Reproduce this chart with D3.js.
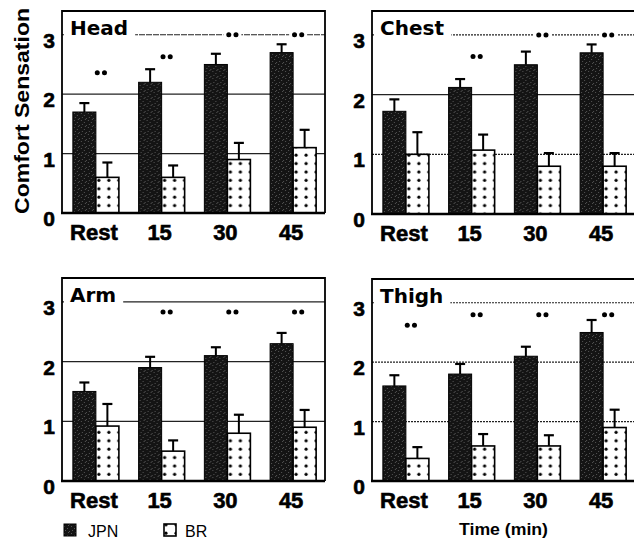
<!DOCTYPE html>
<html lang="en">
  <head>
    <meta charset="utf-8" />
    <style>
      body { margin: 0; background: #fff; }
      svg { display: block; }
    </style>
  </head>
  <body>
    <svg id="chart" width="634" height="543"></svg>
    <script src="https://d3js.org/d3.v7.min.js"></script>
    <script>
      const categories = ["Rest", "15", "30", "45"];
      const yTicks = [0, 1, 2, 3];

      const headJPN = [1.7, 2.2, 2.5, 2.7];
      const headJPNErr = [0.15, 0.22, 0.18, 0.14];
      const headBR = [0.6, 0.6, 0.9, 1.1];
      const headBRErr = [0.25, 0.2, 0.28, 0.3];
      const headStars = [2.36, 2.63, 3.0, 3.0];

      const chestJPN = [1.72, 2.12, 2.5, 2.7];
      const chestJPNErr = [0.2, 0.14, 0.22, 0.14];
      const chestBR = [1.0, 1.07, 0.8, 0.8];
      const chestBRErr = [0.37, 0.26, 0.22, 0.22];
      const chestStars = [null, 2.64, 3.0, 3.0];

      const armJPN = [1.5, 1.9, 2.1, 2.3];
      const armJPNErr = [0.15, 0.18, 0.14, 0.18];
      const armBR = [0.92, 0.5, 0.8, 0.9];
      const armBRErr = [0.37, 0.18, 0.31, 0.29];
      const armStars = [null, 2.83, 2.83, 2.83];

      const thighJPN = [1.6, 1.8, 2.1, 2.5];
      const thighJPNErr = [0.18, 0.17, 0.16, 0.21];
      const thighBR = [0.38, 0.59, 0.59, 0.9];
      const thighBRErr = [0.19, 0.2, 0.18, 0.3];
      const thighStars = [2.62, 2.8, 2.8, 2.8];

      const seriesNames = ["JPN", "BR"];

      // panel layout (pixels)
      const panelWidth = 263;
      const panels = [
        { label: "Head", jpn: headJPN, jpnErr: headJPNErr, br: headBR, brErr: headBRErr, stars: headStars,
          left: 62, top: 11, bottom: 213, dash: [null, null, "6,1"] },
        { label: "Chest", jpn: chestJPN, jpnErr: chestJPNErr, br: chestBR, brErr: chestBRErr, stars: chestStars,
          left: 372, top: 11, bottom: 214, dash: ["2,1", null, "2,1"] },
        { label: "Arm", jpn: armJPN, jpnErr: armJPNErr, br: armBR, brErr: armBRErr, stars: armStars,
          left: 62, top: 278, bottom: 481, dash: [null, null, null] },
        { label: "Thigh", jpn: thighJPN, jpnErr: thighJPNErr, br: thighBR, brErr: thighBRErr, stars: thighStars,
          left: 372, top: 279, bottom: 481, dash: ["2,1", "2,1", "2,1"] }
      ];

      const svg = d3.select("#chart");
      const defs = svg.append("defs");

      // dotted fill for BR bars
      const dots = defs.append("pattern")
        .attr("id", "dots")
        .attr("patternUnits", "userSpaceOnUse")
        .attr("width", 10)
        .attr("height", 8.4);
      dots.append("rect").attr("width", 10).attr("height", 8.4).attr("fill", "#fff");
      dots.append("circle").attr("cx", 6).attr("cy", 4).attr("r", 1.6).attr("fill", "#000");

      // grainy dark fill for JPN bars
      const grain = defs.append("pattern")
        .attr("id", "grain")
        .attr("patternUnits", "userSpaceOnUse")
        .attr("width", 7)
        .attr("height", 7);
      grain.append("rect").attr("width", 7).attr("height", 7).attr("fill", "#141414");
      [[1, 1], [4, 3], [2, 5], [6, 6], [5, 0]].forEach(p => {
        grain.append("rect").attr("x", p[0]).attr("y", p[1]).attr("width", 1).attr("height", 1).attr("fill", "#555");
      });

      const font = "'Liberation Sans', Arial, sans-serif";

      panels.forEach(p => {
        const right = p.left + panelWidth;
        const x = d3.scaleBand()
          .domain(categories)
          .range([p.left + 1, right + 1])
          .paddingInner(0.3)
          .paddingOuter(0.15);
        const sub = d3.scaleBand().domain(seriesNames).range([0, x.bandwidth()]);
        const y = d3.scaleLinear().domain([0, 3.4]).range([p.bottom, p.top]);

        const g = svg.append("g");

        // grid lines
        g.selectAll(".grid")
          .data([1, 2, 3])
          .join("line")
          .attr("x1", p.left)
          .attr("x2", right)
          .attr("y1", d => y(d))
          .attr("y2", d => y(d))
          .attr("stroke", "#222")
          .attr("stroke-width", 1.2)
          .attr("stroke-dasharray", (d, i) => p.dash[i]);

        const rows = categories.map((c, i) => ({
          cat: c, jpn: p.jpn[i], jpnErr: p.jpnErr[i], br: p.br[i], brErr: p.brErr[i], star: p.stars[i]
        }));

        const grp = g.selectAll(".grp")
          .data(rows)
          .join("g")
          .attr("transform", d => `translate(${x(d.cat)},0)`);

        // JPN bars
        grp.append("rect")
          .attr("x", sub("JPN"))
          .attr("width", sub.bandwidth())
          .attr("y", d => y(d.jpn))
          .attr("height", d => y(0) - y(d.jpn))
          .attr("fill", "url(#grain)")
          .attr("stroke", "#000")
          .attr("stroke-width", 1);

        // BR bars
        grp.append("rect")
          .attr("x", sub("BR"))
          .attr("width", sub.bandwidth())
          .attr("y", d => y(d.br))
          .attr("height", d => y(0) - y(d.br))
          .attr("fill", "url(#dots)")
          .attr("stroke", "#000")
          .attr("stroke-width", 1.6);

        // error bars (upper only)
        const errs = [
          { key: "JPN", v: d => d.jpn, e: d => d.jpnErr },
          { key: "BR", v: d => d.br, e: d => d.brErr }
        ];
        errs.forEach(s => {
          const cx = sub(s.key) + sub.bandwidth() / 2;
          grp.append("line")
            .attr("x1", cx).attr("x2", cx)
            .attr("y1", d => y(s.v(d)))
            .attr("y2", d => y(s.v(d) + s.e(d)))
            .attr("stroke", "#000")
            .attr("stroke-width", 2);
          grp.append("line")
            .attr("x1", cx - 5).attr("x2", cx + 5)
            .attr("y1", d => y(s.v(d) + s.e(d)))
            .attr("y2", d => y(s.v(d) + s.e(d)))
            .attr("stroke", "#000")
            .attr("stroke-width", 2.2);
        });

        // significance marks
        const starGrp = grp.filter(d => d.star !== null)
          .append("g")
          .attr("transform", d => `translate(${x.bandwidth() / 2 + 5},${y(d.star)})`);
        starGrp.append("rect")
          .attr("x", -9).attr("y", -4).attr("width", 18).attr("height", 8)
          .attr("fill", "#fff");
        starGrp.selectAll("circle")
          .data([-3.6, 3.6])
          .join("circle")
          .attr("cx", d => d)
          .attr("cy", 0)
          .attr("r", 2.5)
          .attr("fill", "#000");

        // frame
        g.append("path")
          .attr("d", `M${p.left},${p.bottom}V${p.top}H${right}V${p.bottom}`)
          .attr("fill", "none")
          .attr("stroke", "#000")
          .attr("stroke-width", 1.8);
        g.append("line")
          .attr("x1", p.left - 1).attr("x2", right)
          .attr("y1", p.bottom).attr("y2", p.bottom)
          .attr("stroke", "#000")
          .attr("stroke-width", 2.4);

        // panel label with white backing over the top grid line
        const lab = g.append("text")
          .attr("x", p.left + 8)
          .attr("y", y(3))
          .attr("font-family", "'DejaVu Sans', sans-serif")
          .attr("font-weight", "bold")
          .attr("font-size", 20)
          .attr("fill", "#000")
          .text(p.label);
        const bb = lab.node().getBBox();
        g.insert("rect", "text")
          .attr("x", p.left + 2)
          .attr("y", bb.y)
          .attr("width", bb.x + bb.width + 7 - (p.left + 2))
          .attr("height", bb.height)
          .attr("fill", "#fff");

        // y tick labels
        g.selectAll(".ytick")
          .data(yTicks)
          .join("text")
          .attr("x", p.left - 7)
          .attr("y", d => y(d) + 13)
          .attr("text-anchor", "end")
          .attr("font-family", font)
          .attr("font-weight", "bold")
          .attr("font-size", 21)
          .attr("stroke", "#000")
          .attr("stroke-width", 0.6)
          .text(d => d);

        // x tick labels
        g.selectAll(".xtick")
          .data(categories)
          .join("text")
          .attr("x", d => x(d) + x.bandwidth() / 2 - 2)
          .attr("y", p.bottom + 27)
          .attr("text-anchor", "middle")
          .attr("font-family", font)
          .attr("font-weight", "bold")
          .attr("font-size", 22)
          .attr("stroke", "#000")
          .attr("stroke-width", 0.6)
          .text(d => d);
      });

      // y axis title
      svg.append("text")
        .attr("transform", "translate(29,111) rotate(-90)")
        .attr("text-anchor", "middle")
        .attr("font-family", font)
        .attr("font-weight", "bold")
        .attr("font-size", 21)
        .attr("textLength", 206)
        .attr("lengthAdjust", "spacingAndGlyphs")
        .text("Comfort Sensation");

      // x axis title
      svg.append("text")
        .attr("x", 459)
        .attr("y", 535)
        .attr("font-family", font)
        .attr("font-weight", "bold")
        .attr("font-size", 16)
        .attr("textLength", 89)
        .attr("lengthAdjust", "spacingAndGlyphs")
        .text("Time (min)");

      // legend
      const legend = svg.append("g");
      const legendItems = [
        { name: "JPN", x: 64, fill: "url(#grain)", sw: 1 },
        { name: "BR", x: 164, fill: "url(#dots)", sw: 1.6 }
      ];
      legendItems.forEach(l => {
        legend.append("rect")
          .attr("x", l.x).attr("y", 524)
          .attr("width", 12).attr("height", 12)
          .attr("fill", l.fill)
          .attr("stroke", "#000")
          .attr("stroke-width", l.sw);
        legend.append("text")
          .attr("x", l.x + (l.name === "JPN" ? 24 : 21))
          .attr("y", 537)
          .attr("font-family", font)
          .attr("font-size", 16)
          .text(l.name);
      });
    </script>
  </body>
</html>
